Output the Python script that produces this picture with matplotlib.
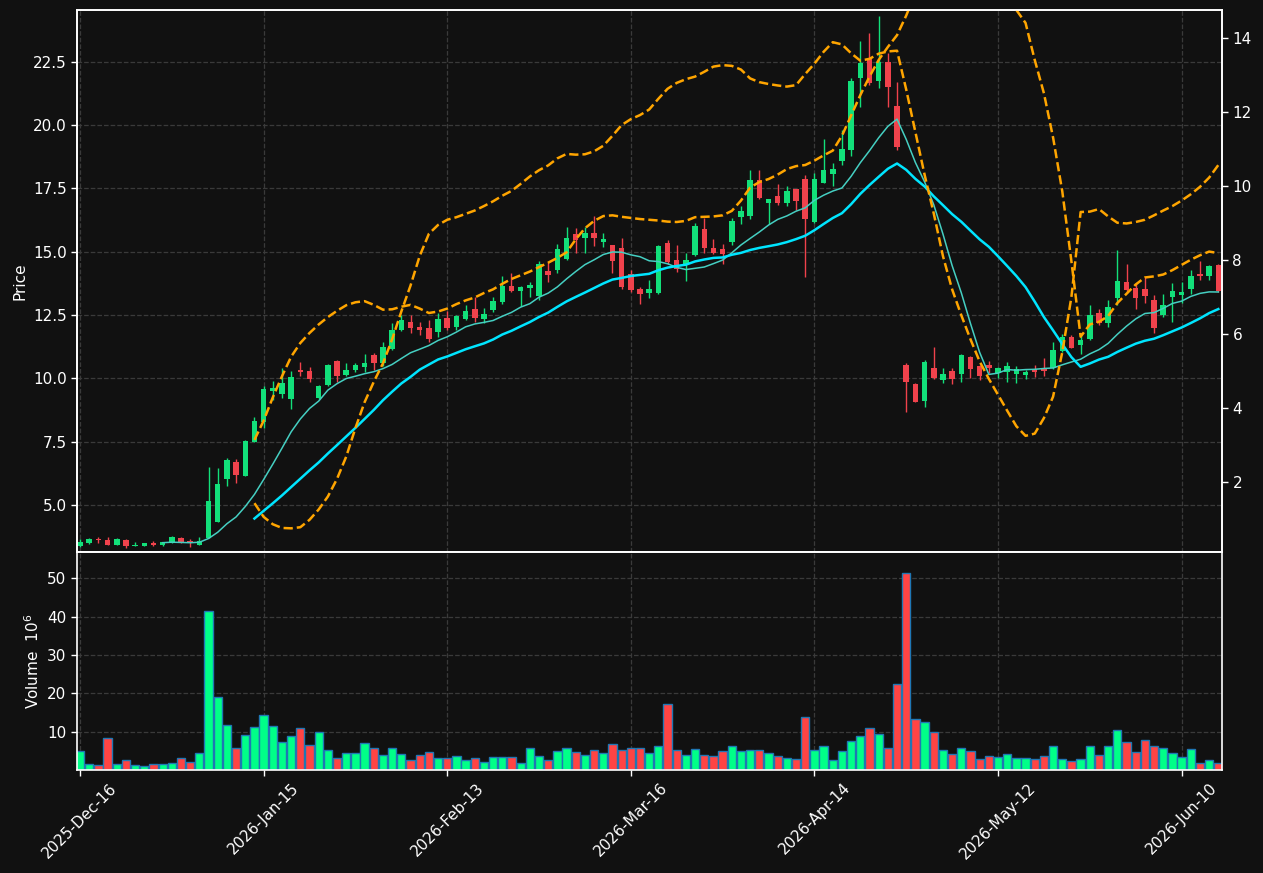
import numpy as np
import pandas as pd
import matplotlib
matplotlib.use('Agg')
import matplotlib.pyplot as plt

# daily candles, one per trading day (index 0 = 2025-Dec-16)
opens = [3.36, 3.49, 3.67, 3.62, 3.42, 3.62, 3.36, 3.39, 3.51, 3.42,
         3.53, 3.68, 3.58, 3.42, 3.68, 4.34, 6.03, 6.70, 6.16, 7.50,
         8.29, 9.51, 9.38, 9.18, 10.33, 10.29, 9.24, 9.72, 10.68, 10.13,
         10.33, 10.43, 10.91, 10.59, 11.16, 11.91, 12.22, 12.04, 12.00, 11.84,
         12.37, 12.04, 12.33, 12.72, 12.34, 12.70, 13.03, 13.63, 13.46, 13.55,
         13.25, 14.22, 14.26, 14.70, 15.68, 15.55, 15.75, 15.38, 15.28, 15.16,
         14.13, 13.51, 13.36, 13.37, 15.36, 14.66, 14.53, 14.86, 15.88, 15.14,
         15.09, 15.38, 16.37, 16.39, 17.82, 16.92, 17.18, 16.92, 17.46, 17.86,
         16.17, 17.72, 18.08, 18.57, 19.00, 21.86, 22.64, 21.72, 22.49, 20.74,
         10.53, 9.78, 9.12, 10.39, 9.93, 10.29, 10.17, 10.83, 10.49, 10.53,
         10.22, 10.26, 10.17, 10.13, 10.36, 10.39, 10.39, 11.09, 11.62, 11.32,
         11.55, 12.57, 12.20, 13.16, 13.80, 13.55, 13.54, 13.09, 12.50, 13.22,
         13.28, 13.53, 14.13, 14.03, 14.46]
highs = [3.64, 3.68, 3.72, 3.75, 3.70, 3.64, 3.53, 3.50, 3.58, 3.55,
         3.77, 3.72, 3.64, 3.72, 6.49, 6.45, 6.84, 6.83, 7.55, 8.46,
         9.70, 9.89, 10.42, 10.30, 10.66, 10.46, 9.74, 10.55, 10.72, 10.59,
         10.59, 10.95, 10.99, 11.45, 12.17, 12.50, 12.50, 12.24, 12.30, 12.59,
         12.67, 12.50, 12.89, 13.22, 12.76, 13.20, 14.03, 14.16, 13.64, 13.82,
         14.62, 14.59, 15.29, 15.97, 15.95, 15.97, 16.39, 15.75, 15.28, 15.55,
         14.26, 13.62, 13.88, 15.28, 15.47, 15.28, 14.96, 16.13, 16.34, 15.51,
         15.32, 16.34, 16.79, 18.21, 18.21, 17.07, 17.66, 17.58, 17.46, 18.01,
         18.12, 19.46, 18.51, 19.79, 21.86, 23.30, 23.64, 24.29, 22.86, 21.70,
         10.59, 9.80, 10.72, 11.22, 10.39, 10.39, 10.96, 10.86, 10.53, 10.68,
         10.46, 10.66, 10.49, 10.33, 10.53, 10.79, 11.45, 11.75, 11.71, 11.71,
         12.89, 12.72, 13.09, 15.05, 14.53, 13.75, 14.00, 13.29, 13.33, 13.75,
         13.80, 14.29, 14.62, 14.49, 14.53]
lows = [3.33, 3.45, 3.49, 3.42, 3.40, 3.30, 3.36, 3.37, 3.36, 3.38,
        3.49, 3.51, 3.32, 3.42, 3.68, 4.32, 5.75, 5.88, 6.14, 7.48,
        8.03, 9.14, 9.21, 8.78, 10.07, 9.84, 9.20, 9.70, 9.87, 10.09,
        10.26, 10.26, 10.33, 10.49, 11.12, 11.88, 11.78, 11.71, 11.45, 11.64,
        11.91, 11.91, 12.30, 12.24, 12.17, 12.63, 12.92, 13.40, 12.86, 13.20,
        13.08, 13.80, 14.16, 14.66, 14.95, 14.95, 15.22, 15.18, 14.16, 13.53,
        13.40, 12.92, 13.16, 13.34, 14.53, 14.20, 13.84, 14.82, 14.96, 14.92,
        14.53, 15.25, 16.11, 16.30, 17.07, 16.11, 16.83, 16.80, 16.63, 14.00,
        16.13, 17.71, 17.59, 18.43, 18.78, 20.71, 21.57, 21.46, 20.71, 19.00,
        8.68, 9.05, 8.88, 9.96, 9.80, 9.76, 9.84, 10.00, 9.93, 10.22,
        10.00, 9.87, 9.80, 9.96, 10.04, 10.07, 10.36, 11.05, 11.18, 10.96,
        11.51, 12.11, 12.01, 12.90, 13.40, 12.72, 12.99, 11.80, 12.41, 12.24,
        12.96, 13.34, 13.89, 13.87, 13.41]
closes = [3.53, 3.64, 3.60, 3.42, 3.67, 3.36, 3.42, 3.49, 3.42, 3.53,
          3.72, 3.55, 3.49, 3.59, 5.16, 5.83, 6.78, 6.18, 7.53, 8.32,
          9.58, 9.63, 9.80, 10.04, 10.25, 9.96, 9.70, 10.51, 10.09, 10.33,
          10.51, 10.61, 10.59, 11.25, 11.91, 12.30, 11.97, 11.91, 11.54, 12.33,
          11.97, 12.46, 12.66, 12.39, 12.54, 13.04, 13.64, 13.43, 13.62, 13.70,
          14.53, 14.07, 15.12, 15.55, 15.45, 15.75, 15.55, 15.51, 14.63, 13.61,
          13.49, 13.33, 13.51, 15.24, 14.59, 14.33, 14.68, 16.00, 15.14, 14.95,
          14.89, 16.20, 16.61, 17.82, 17.12, 17.07, 16.92, 17.38, 17.00, 16.28,
          17.86, 18.21, 18.25, 19.04, 21.72, 22.45, 21.66, 22.49, 21.50, 19.13,
          9.87, 9.08, 10.63, 10.00, 10.16, 9.97, 10.92, 10.37, 10.09, 10.42,
          10.39, 10.49, 10.36, 10.26, 10.26, 10.30, 11.12, 11.62, 11.21, 11.51,
          12.50, 12.17, 12.83, 13.83, 13.49, 13.16, 13.25, 11.97, 12.89, 13.45,
          13.41, 14.03, 14.03, 14.42, 13.45]
# volume in millions
volumes = [5.07, 1.61, 1.18, 8.45, 1.61, 2.73, 1.18, 0.92, 1.44, 1.44,
           1.95, 3.25, 2.04, 4.55, 41.43, 19.10, 11.82, 5.68, 9.23, 11.30,
           14.42, 11.57, 7.24, 8.97, 10.96, 6.63, 10.00, 5.33, 3.08, 4.55,
           4.55, 7.15, 5.68, 4.03, 5.85, 4.29, 2.56, 4.03, 4.64, 3.25,
           3.08, 3.60, 2.73, 3.25, 2.21, 3.51, 3.51, 3.51, 1.95, 5.85,
           3.77, 2.73, 4.90, 5.85, 4.81, 4.03, 5.16, 4.55, 6.89, 5.33,
           5.85, 5.85, 4.55, 6.37, 17.28, 5.16, 4.03, 5.59, 4.03, 3.77,
           5.07, 6.37, 5.07, 5.33, 5.16, 4.55, 3.77, 3.25, 2.99, 13.90,
           5.33, 6.37, 2.73, 5.07, 7.50, 8.97, 11.05, 9.49, 5.68, 22.56,
           51.39, 13.38, 12.60, 9.83, 5.33, 4.29, 5.85, 4.90, 3.00, 3.77,
           3.51, 4.29, 3.25, 3.25, 3.00, 3.77, 6.37, 3.00, 2.47, 3.00,
           6.37, 4.03, 6.37, 10.53, 7.24, 4.64, 7.93, 6.20, 5.85, 4.55,
           3.51, 5.59, 1.95, 2.73, 1.95]

# two dashed overlay lines on the right-hand scale, from bar 19 onward
band_start = 19
band_a = [1.42, 1.05, 0.85, 0.75, 0.74, 0.77, 0.97, 1.25, 1.60, 2.08,
          2.68, 3.45, 4.15, 4.70, 5.20, 5.85, 6.60, 7.30, 8.10, 8.70,
          8.94, 9.08, 9.15, 9.24, 9.33, 9.45, 9.58, 9.73, 9.86, 10.05,
          10.25, 10.42, 10.55, 10.74, 10.86, 10.84, 10.85, 10.93, 11.08, 11.35,
          11.64, 11.80, 11.91, 12.06, 12.35, 12.62, 12.78, 12.88, 12.95, 13.08,
          13.22, 13.26, 13.24, 13.14, 12.90, 12.80, 12.75, 12.71, 12.68, 12.72,
          13.02, 13.30, 13.62, 13.88, 13.82, 13.58, 13.38, 13.43, 13.57, 13.63,
          13.65, 12.60, 11.45, 10.30, 9.25, 8.10, 7.20, 6.50, 5.85, 5.25,
          4.78, 4.35, 3.92, 3.50, 3.24, 3.30, 3.72, 4.30, 5.50, 7.00,
          9.29, 9.30, 9.37, 9.17, 9.00, 8.98, 9.02, 9.08, 9.20, 9.33,
          9.45, 9.60, 9.77, 9.97, 10.22, 10.56]
band_b = [3.13, 3.65, 4.28, 4.85, 5.38, 5.75, 6.02, 6.25, 6.45, 6.62,
          6.77, 6.85, 6.88, 6.78, 6.65, 6.66, 6.73, 6.78, 6.68, 6.56,
          6.60, 6.68, 6.80, 6.90, 6.98, 7.10, 7.20, 7.35, 7.48, 7.58,
          7.68, 7.80, 7.92, 8.05, 8.20, 8.55, 8.85, 9.05, 9.18, 9.20,
          9.16, 9.13, 9.10, 9.08, 9.06, 9.03, 9.02, 9.05, 9.15, 9.16,
          9.17, 9.20, 9.32, 9.60, 9.95, 10.10, 10.18, 10.30, 10.45, 10.53,
          10.56, 10.68, 10.82, 10.95, 11.35, 11.90, 12.45, 12.95, 13.40, 13.75,
          14.07, 14.60, 15.20, 15.80, 16.30, 16.70, 17.00, 17.10, 17.00, 16.70,
          16.20, 15.60, 15.10, 14.75, 14.40, 13.40, 12.50, 11.30, 9.85, 7.95,
          5.92, 6.25, 6.32, 6.48, 6.83, 7.08, 7.33, 7.52, 7.55, 7.60,
          7.72, 7.86, 8.00, 8.12, 8.22, 8.18]

tick_pos = [0, 20, 40, 60, 80, 100, 120]
tick_labels = ['2025-Dec-16', '2026-Jan-15', '2026-Feb-13', '2026-Mar-16',
               '2026-Apr-14', '2026-May-12', '2026-Jun-10']

BG = '#111111'
GRID = '#3a3a3a'
UP, DOWN = '#12e07a', '#f0424c'
VUP, VDOWN = '#00ff88', '#ff4444'

o = np.array(opens); h = np.array(highs); l = np.array(lows); c = np.array(closes)
x = np.arange(len(c))
up = c >= o
ma10 = pd.Series(c).rolling(10).mean()
ma20 = pd.Series(c).rolling(20).mean()
xb = np.arange(band_start, band_start + len(band_a))

W, H = 1263, 873
fig = plt.figure(figsize=(W / 100, H / 100), dpi=100, facecolor=BG)
ax = fig.add_axes([77 / W, 1 - 552 / H, 1145 / W, 542 / H])
axv = fig.add_axes([77 / W, 1 - 770 / H, 1145 / W, 218 / H], sharex=ax)
ax2 = ax.twinx()

for a in (ax, axv):
    a.set_facecolor(BG)
    a.grid(True, linestyle='--', color=GRID, linewidth=0.9)
    a.set_axisbelow(True)
    for s in a.spines.values():
        s.set_color('white')
        s.set_linewidth(1.2)
    a.tick_params(colors='white', labelsize=11, length=4, width=1)
for s in ax2.spines.values():
    s.set_color('white')
    s.set_linewidth(1.2)
ax2.tick_params(colors='white', labelsize=11, length=4, width=1)

# candles
cols = np.where(up, UP, DOWN)
ax.vlines(x, l, h, colors=cols, linewidth=1)
body = np.maximum(np.abs(c - o), 0.04)
ax.bar(x, body, bottom=np.minimum(o, c), width=0.6, color=cols, linewidth=0)

ax.plot(x, ma10, color='#45cfc2', linewidth=1.1)
ax.plot(x, ma20, color='#00e5ff', linewidth=1.8)

ax2.plot(xb, band_a, color='#ffa500', linestyle='--', linewidth=1.8)
ax2.plot(xb, band_b, color='#ffa500', linestyle='--', linewidth=1.8)
ax2.set_ylim(0.1, 14.75)
ax2.set_yticks([2, 4, 6, 8, 10, 12, 14])

ax.set_ylim(3.14, 24.54)
ax.set_yticks([5.0, 7.5, 10.0, 12.5, 15.0, 17.5, 20.0, 22.5])
ax.set_ylabel('Price', color='white', fontsize=11)
ax.tick_params(labelbottom=False)

axv.bar(x, volumes, width=0.9, color=np.where(up, VUP, VDOWN),
        edgecolor='#1f77b4', linewidth=1)
axv.set_ylim(0, 56.9)
axv.set_yticks([10, 20, 30, 40, 50])
axv.set_ylabel('Volume  $10^{6}$', color='white', fontsize=11)

axv.set_xlim(-0.33, 124.4)
axv.set_xticks(tick_pos)
axv.set_xticklabels(tick_labels, rotation=45, ha='center')

fig.savefig('out.png', dpi=100, facecolor=BG)
